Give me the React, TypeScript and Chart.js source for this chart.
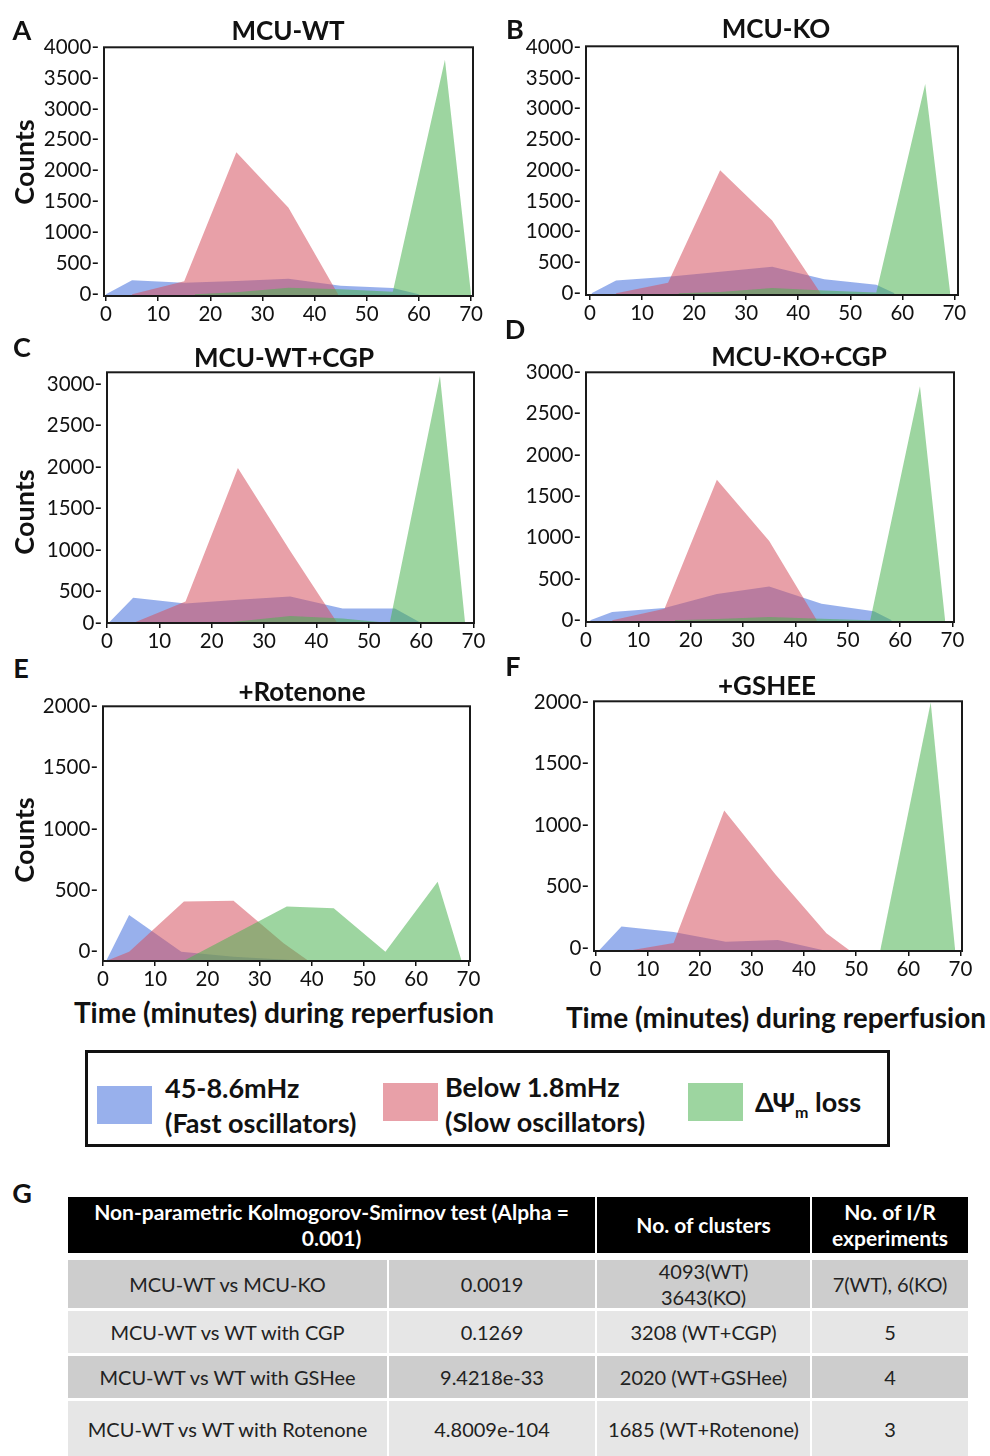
import React, { useEffect, useRef } from "react";
import { Chart, registerables } from "chart.js";

Chart.register(...registerables);

// ---------- data ----------
const xTicks = [0, 10, 20, 30, 40, 50, 60, 70];
const yTicks4000 = [0, 500, 1000, 1500, 2000, 2500, 3000, 3500, 4000];
const yTicks3000 = [0, 500, 1000, 1500, 2000, 2500, 3000];
const yTicks2000 = [0, 500, 1000, 1500, 2000];

// [minute, count] pairs
// A: MCU-WT
const wtFast = [[0, 0], [5, 225], [15, 185], [25, 215], [35, 250], [45, 135], [55, 100], [60, 0]];
const wtSlow = [[5, 0], [15, 210], [25, 2300], [35, 1400], [44.5, 0]];
const wtLoss = [[17, 0], [25, 30], [35, 105], [45, 80], [55, 40], [65, 3800], [70, 0]];
// B: MCU-KO
const koFast = [[0.3, 0], [5, 205], [15, 265], [25, 350], [35, 430], [45, 225], [55, 135], [58.5, 0]];
const koSlow = [[5, 0], [15, 170], [25, 2000], [35, 1180], [44.3, 0]];
const koLoss = [[17, 0], [25, 20], [35, 85], [45, 45], [55, 10], [64.4, 3400], [69.2, 0]];
// C: MCU-WT+CGP
const wtCgpFast = [[0.3, 120], [5, 425], [15, 355], [25, 400], [35, 440], [45, 295], [55, 295], [60, 120]];
const wtCgpSlow = [[5, 120], [15, 380], [25, 1990], [35, 990], [44, 120]];
const wtCgpLoss = [[22, 120], [35, 205], [45, 175], [54, 120], [63.6, 3100], [68.4, 120]];
// D: MCU-KO+CGP
const koCgpFast = [[0.8, 0], [5, 100], [15, 150], [25, 320], [35, 410], [45, 200], [55, 110], [58.4, 0]];
const koCgpSlow = [[5, 0], [15, 140], [25, 1700], [35, 960], [44.1, 0]];
const koCgpLoss = [[17, 0], [25, 15], [35, 40], [45, 20], [54.3, 0], [63.8, 2830], [68.6, 0]];
// E: +Rotenone
const rotFast = [[0.6, -75], [5, 300], [15, 0], [25, -40], [39.4, -75]];
const rotSlow = [[0.6, -75], [5, 0], [15.5, 410], [25, 415], [34.6, 70], [39.4, -75]];
const rotLoss = [[15.4, -75], [35.2, 370], [44.2, 355], [54.1, 0], [64.1, 570], [68.7, -75]];
// F: +GSHEE
const gshFast = [[0.6, -25], [5, 175], [15, 130], [25, 50], [35, 65], [44.4, -25]];
const gshSlow = [[6, -25], [15, 40], [24.7, 1120], [34.5, 600], [44.3, 120], [48.9, -25]];
const gshLoss = [[54.6, -25], [64.3, 2000], [69, -25]];

const legendLabels = [
  ["45-8.6mHz", "(Fast oscillators)"],
  ["Below 1.8mHz", "(Slow oscillators)"],
];

const tableHeader = ["Non-parametric Kolmogorov-Smirnov test (Alpha =\n0.001)", "No. of clusters", "No. of I/R\nexperiments"];
const comparisons = ["MCU-WT vs MCU-KO", "MCU-WT vs WT with CGP", "MCU-WT vs WT with GSHee", "MCU-WT vs WT with Rotenone"];
const pValues = ["0.0019", "0.1269", "9.4218e-33", "4.8009e-104"];
const clusters = ["4093(WT)\n3643(KO)", "3208 (WT+CGP)", "2020 (WT+GSHee)", "1685 (WT+Rotenone)"];
const experiments = ["7(WT), 6(KO)", "5", "4", "3"];

// ---------- styles ----------
const BLUE = "rgba(68,111,220,0.55)";
const RED = "rgba(213,82,97,0.55)";
const GREEN = "rgba(77,178,82,0.55)";
const FONT = "Lato";
const INK = "#111";

const YW = 70; // y axis box width
const XH = 34; // x axis box height
const PADT = 14;
const PADR = 18;

const panels = [
  { key: "A", fast: wtFast, slow: wtSlow, loss: wtLoss, yTicks: yTicks4000, yMin: -30, yMax: 4000, xMin: -0.38, xMax: 70.38, f: { L: 104, T: 44, R: 473, B: 296 } },
  { key: "B", fast: koFast, slow: koSlow, loss: koLoss, yTicks: yTicks4000, yMin: -30, yMax: 4015, xMin: -0.77, xMax: 70.7, f: { L: 586, T: 43, R: 958, B: 295 } },
  { key: "C", fast: wtCgpFast, slow: wtCgpSlow, loss: wtCgpLoss, yTicks: yTicks3000, yMin: 120, yMax: 3145, xMin: 0, xMax: 70.1, f: { L: 107, T: 369, R: 474, B: 623 } },
  { key: "D", fast: koCgpFast, slow: koCgpSlow, loss: koCgpLoss, yTicks: yTicks3000, yMin: -20, yMax: 3000, xMin: 0, xMax: 70.3, f: { L: 586, T: 369, R: 954, B: 622 } },
  { key: "E", fast: rotFast, slow: rotSlow, loss: rotLoss, yTicks: yTicks2000, yMin: -75, yMax: 2000, xMin: 0, xMax: 70.3, f: { L: 103, T: 703, R: 470, B: 961 } },
  { key: "F", fast: gshFast, slow: gshSlow, loss: gshLoss, yTicks: yTicks2000, yMin: -25, yMax: 2010, xMin: -0.27, xMax: 70.3, f: { L: 594, T: 698, R: 962, B: 951 } },
];

const framePlugin = {
  id: "frame",
  afterDraw(chart: any) {
    const { ctx, chartArea: a } = chart;
    ctx.save();
    ctx.strokeStyle = "#1a1a1a";
    ctx.lineWidth = 2;
    ctx.strokeRect(a.left, a.top, a.right - a.left, a.bottom - a.top);
    ctx.restore();
  },
};

function Panel({ p }: { p: any }) {
  const ref = useRef<HTMLCanvasElement>(null);
  const w = YW + (p.f.R - p.f.L) + PADR;
  const h = PADT + (p.f.B - p.f.T) + XH;
  useEffect(() => {
    const mk = (pts: number[][], color: string) => ({
      data: pts.map(([x, y]) => ({ x, y })),
      backgroundColor: color,
      borderColor: "rgba(0,0,0,0)",
      borderWidth: 0,
      pointRadius: 0,
      fill: "start",
      tension: 0,
    });
    const chart = new Chart(ref.current as HTMLCanvasElement, {
      type: "line",
      data: { datasets: [mk(p.loss, GREEN), mk(p.slow, RED), mk(p.fast, BLUE)] as any },
      options: {
        animation: false,
        responsive: false,
        maintainAspectRatio: false,
        layout: { padding: { left: 0, top: PADT, right: PADR, bottom: 0 } },
        plugins: { legend: { display: false }, tooltip: { enabled: false }, title: { display: false } },
        scales: {
          x: {
            type: "linear",
            min: p.xMin,
            max: p.xMax,
            afterBuildTicks: (s: any) => {
              s.ticks = xTicks.map((v) => ({ value: v }));
            },
            afterFit: (s: any) => {
              s.height = XH;
            },
            ticks: {
              autoSkip: false,
              maxRotation: 0,
              padding: 1,
              color: INK,
              font: { family: FONT, size: 20.5 },
              callback: (v: any) => String(v),
            },
            grid: { display: true, drawOnChartArea: false, drawTicks: true, tickLength: 5, color: INK, lineWidth: 1.5 },
            border: { display: false },
          },
          y: {
            type: "linear",
            min: p.yMin,
            max: p.yMax,
            afterBuildTicks: (s: any) => {
              s.ticks = p.yTicks.map((v: number) => ({ value: Math.max(v, p.yMin) }));
            },
            afterFit: (s: any) => {
              s.width = YW;
            },
            ticks: {
              autoSkip: false,
              padding: 5,
              color: INK,
              font: { family: FONT, size: 20.5 },
              callback: (_v: any, i: number) => p.yTicks[i] + "-",
            },
            grid: { display: false, drawTicks: false },
            border: { display: false },
          },
        },
      } as any,
      plugins: [framePlugin],
    });
    return () => chart.destroy();
  }, []);
  return (
    <canvas
      ref={ref}
      width={w}
      height={h}
      style={{ position: "absolute", left: p.f.L - YW, top: p.f.T - PADT, width: w, height: h }}
    />
  );
}

function Txt({ x, y, size, bold = true, rot = 0, left = false, color = INK, children }: any) {
  return (
    <div
      style={{
        position: "absolute",
        left: x,
        top: y,
        transform: `translate(${left ? "0" : "-50%"},-50%) rotate(${rot}deg)`,
        fontSize: size,
        fontWeight: bold ? 700 : 400,
        lineHeight: 1,
        whiteSpace: "nowrap",
        color,
        fontFamily: FONT,
      }}
    >
      {children}
    </div>
  );
}

function Cell({ x0, x1, y0, y1, bg, color, bold, size, text }: any) {
  return (
    <div
      style={{
        position: "absolute",
        left: x0,
        top: y0,
        width: x1 - x0,
        height: y1 - y0,
        background: bg,
        color,
        fontWeight: bold ? 700 : 400,
        fontSize: size,
        fontFamily: FONT,
        lineHeight: "26px",
        display: "flex",
        alignItems: "center",
        justifyContent: "center",
        textAlign: "center",
        whiteSpace: "pre-line",
      }}
    >
      {text}
    </div>
  );
}

export default function App() {
  const titles = [
    ["MCU-WT", 288, 30],
    ["MCU-KO", 776, 28],
    ["MCU-WT+CGP", 284, 357],
    ["MCU-KO+CGP", 799, 356],
    ["+Rotenone", 302, 691],
    ["+GSHEE", 767, 685],
  ];
  const letters = [
    ["A", 22, 29],
    ["B", 515, 28],
    ["C", 22, 346],
    ["D", 515, 328],
    ["E", 21, 667],
    ["F", 513, 665],
    ["G", 22, 1192],
  ];
  const cols = [68, 387, 389, 595, 597, 810, 812, 968];
  const rowsY = [
    [1260, 1308],
    [1311, 1353],
    [1356, 1398],
    [1401, 1456],
  ];
  const rowBg = ["#cdcdcd", "#e6e6e6", "#cdcdcd", "#e6e6e6"];
  const swatches = [
    { c: BLUE, x: 97, y: 1086 },
    { c: RED, x: 383, y: 1083 },
    { c: GREEN, x: 688, y: 1083 },
  ];
  return (
    <div style={{ position: "absolute", left: 0, top: 0, width: 990, height: 1456, background: "#fff", overflow: "hidden" }}>
      {panels.map((p) => (
        <Panel key={p.key} p={p} />
      ))}
      {titles.map(([t, x, y]) => (
        <Txt key={t as string} x={x} y={y} size={26}>
          {t}
        </Txt>
      ))}
      {letters.map(([t, x, y]) => (
        <Txt key={t as string} x={x} y={y} size={27}>
          {t}
        </Txt>
      ))}
      <Txt x={23} y={162} size={27} rot={-90}>Counts</Txt>
      <Txt x={23} y={512} size={27} rot={-90}>Counts</Txt>
      <Txt x={23} y={840} size={27} rot={-90}>Counts</Txt>
      <Txt x={284} y={1012} size={28}>Time (minutes) during reperfusion</Txt>
      <Txt x={776} y={1017} size={28}>Time (minutes) during reperfusion</Txt>

      {/* legend */}
      <div style={{ position: "absolute", left: 85, top: 1050, width: 805, height: 97, border: "3px solid #111", boxSizing: "border-box" }} />
      {swatches.map((s, i) => (
        <div key={i} style={{ position: "absolute", left: s.x, top: s.y, width: 55, height: 38, background: s.c }} />
      ))}
      <Txt x={165} y={1087} size={27} left>{legendLabels[0][0]}</Txt>
      <Txt x={165} y={1122} size={27} left>{legendLabels[0][1]}</Txt>
      <Txt x={445} y={1086} size={27} left>{legendLabels[1][0]}</Txt>
      <Txt x={445} y={1121} size={27} left>{legendLabels[1][1]}</Txt>
      <Txt x={755} y={1104} size={27} left>
        ΔΨ<sub style={{ fontSize: 16 }}>m</sub> loss
      </Txt>

      {/* table */}
      <Cell x0={68} x1={595} y0={1197} y1={1253} bg="#000" color="#fff" bold size={21} text={tableHeader[0]} />
      <Cell x0={597} x1={810} y0={1197} y1={1253} bg="#000" color="#fff" bold size={21} text={tableHeader[1]} />
      <Cell x0={812} x1={968} y0={1197} y1={1253} bg="#000" color="#fff" bold size={21} text={tableHeader[2]} />
      {comparisons.map((c, i) => {
        const vals = [c, pValues[i], clusters[i], experiments[i]];
        return vals.map((v, j) => (
          <Cell
            key={i + "-" + j}
            x0={cols[j * 2]}
            x1={cols[j * 2 + 1]}
            y0={rowsY[i][0]}
            y1={rowsY[i][1]}
            bg={rowBg[i]}
            color="#222"
            size={20}
            text={v}
          />
        ));
      })}
    </div>
  );
}
